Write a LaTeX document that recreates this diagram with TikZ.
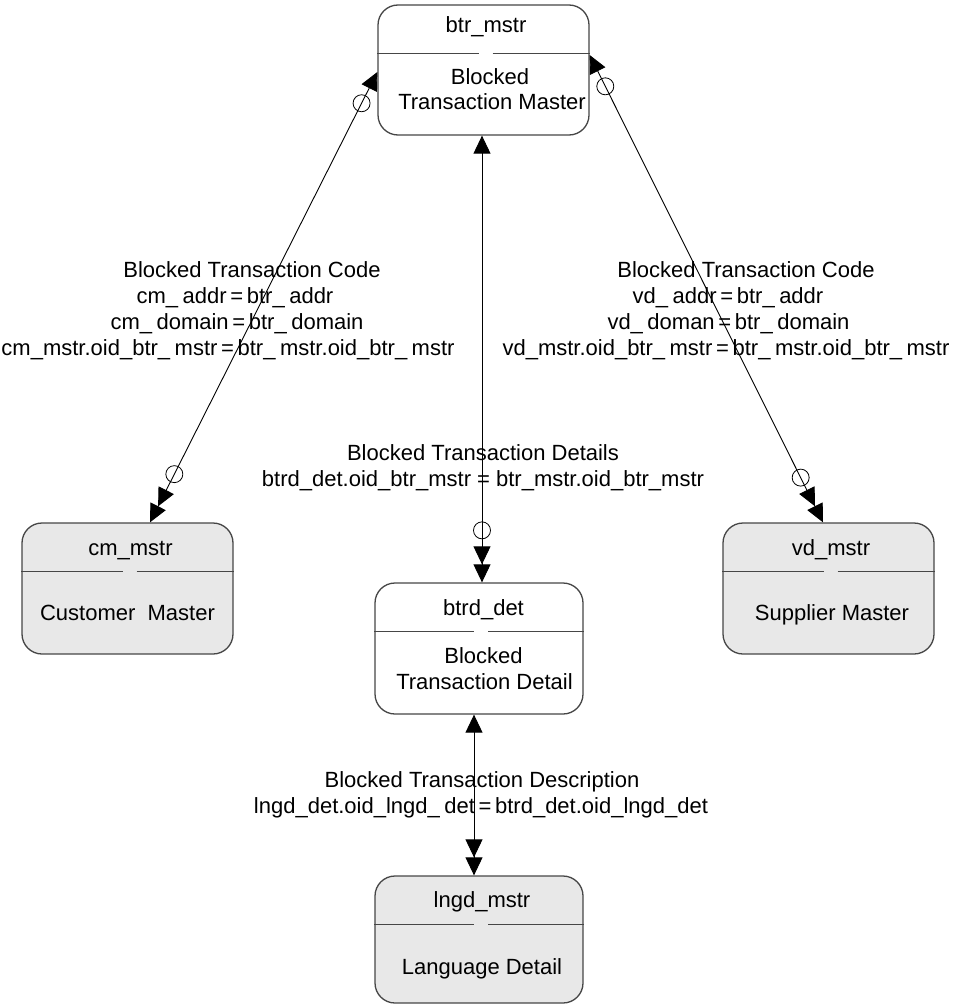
\documentclass[tikz,border=0pt]{standalone}
\usepackage{fontspec}
\setmainfont{Liberation Sans}
\usetikzlibrary{arrows.meta,calc}
\definecolor{boxline}{RGB}{70,70,70}
\definecolor{boxfill}{RGB}{232,232,232}
\newcommand{\ugap}{\_\hspace{4.5pt}}
\begin{document}
\begin{tikzpicture}[x=1pt,y=-1pt,
  every node/.style={font=\fontsize{22}{26}\selectfont},
  ent/.style={draw=boxline, line width=1.3pt, rounded corners=20pt, inner sep=0pt},
  entw/.style={ent, fill=white},
  entg/.style={ent, fill=boxfill},
  divline/.style={draw=boxline, line width=1.2pt},
  txt/.style={anchor=base, inner sep=0pt},
  conn/.style={draw=black, line width=0.9pt},
  ring/.style={circle, draw=black, line width=0.8pt, minimum size=17pt, inner sep=0pt},
  both/.style={conn, {Triangle[length=18pt,width=17pt]}-{Triangle[length=18pt,width=17pt]Triangle[length=18pt,width=17pt]}}
]
\useasboundingbox (0,0) rectangle (959,1006);

% entity boxes
\node[entw, minimum width=211pt, minimum height=130pt] (btr) at (483.5,70) {};
\node[entg, minimum width=211pt, minimum height=131pt] (cm) at (127.5,588.5) {};
\node[entg, minimum width=211pt, minimum height=131pt] (vd) at (828.5,588.5) {};
\node[entw, minimum width=208pt, minimum height=131pt] (btrd) at (479,648.5) {};
\node[entg, minimum width=208pt, minimum height=127pt] (lngd) at (479,939.5) {};

% dividers with a small gap
\foreach \b in {btr,cm,vd,btrd,lngd}{
  \draw[divline] ([yshift=-49pt]\b.north west) -- ([yshift=-49pt,xshift=-5pt]\b.north);
  \draw[divline] ([yshift=-49pt,xshift=9pt]\b.north) -- ([yshift=-49pt]\b.north east);
}

% box texts
\node[txt] (btrT) at (486,33) {btr\_mstr};
\node[txt] (btrB1) at (490,85) {Blocked};
\node[txt] (btrB2) at (492,110) {Transaction Master};

\node[txt] (cmT) at (130.5,555) {cm\_mstr};
\node[txt] (cmB) at (127.5,620) {Customer\ \ Master};

\node[txt] (vdT) at (831,555) {vd\_mstr};
\node[txt] (vdB) at (832,620) {Supplier Master};

\node[txt] (btrdT) at (483.5,615) {btrd\_det};
\node[txt] (btrdB1) at (483.5,663) {Blocked};
\node[txt] (btrdB2) at (484.5,689) {Transaction Detail};

\node[txt] (lngdT) at (482,907) {lngd\_mstr};
\node[txt] (lngdB) at (482,974) {Language Detail};

% connector end points
\coordinate (aL) at ([yshift=-2pt]btr.west);
\coordinate (bL) at ([xshift=22.5pt]cm.north);
\coordinate (aR) at ([yshift=15pt]btr.east);
\coordinate (bR) at ([xshift=-5.5pt]vd.north);
\coordinate (aC) at ([xshift=-1.5pt]btr.south);
\coordinate (bC) at ([xshift=3pt]btrd.north);
\coordinate (aD) at ([xshift=-5pt]btrd.south);
\coordinate (bD) at ([xshift=-5pt]lngd.north);

\draw[both] (aL) -- (bL);
\draw[both] (aR) -- (bR);
\draw[both] (aC) -- (bC);
\draw[both] (aD) -- (bD);

% optionality rings
\node[ring] (rL1) at ($(aL)!35pt!(bL)$) {};
\node[ring] (rL2) at ($(bL)!54pt!(aL)$) {};
\node[ring] (rR1) at ($(aR)!35pt!(bR)$) {};
\node[ring] (rR2) at ($(bR)!50pt!(aR)$) {};
\node[ring] (rC2) at ($(bC)!52pt!(aC)$) {};

% relationship labels
\node[txt] (l1) at (252,277) {Blocked Transaction Code};
\node[txt] (l2) at (235,303) {cm\ugap addr\,=\,btr\ugap addr};
\node[txt] (l3) at (237,329) {cm\ugap domain\,=\,btr\ugap domain};
\node[txt] (l4) at (228,355) {cm\_mstr.oid\_btr\ugap mstr\,=\,btr\ugap mstr.oid\_btr\ugap mstr};

\node[txt] (r1) at (746,277) {Blocked Transaction Code};
\node[txt] (r2) at (728,303) {vd\ugap addr\,=\,btr\ugap addr};
\node[txt] (r3) at (728.5,329) {vd\ugap doman\,=\,btr\ugap domain};
\node[txt] (r4) at (726,355) {vd\_mstr.oid\_btr\ugap mstr\,=\,btr\ugap mstr.oid\_btr\ugap mstr};

\node[txt] (c1) at (483,460) {Blocked Transaction Details};
\node[txt] (c2) at (483,486) {btrd\_det.oid\_btr\_mstr = btr\_mstr.oid\_btr\_mstr};

\node[txt] (d1) at (482,787) {Blocked Transaction Description};
\node[txt] (d2) at (481,813) {lngd\_det.oid\_lngd\ugap det\,=\,btrd\_det.oid\_lngd\_det};
\end{tikzpicture}
\end{document}
